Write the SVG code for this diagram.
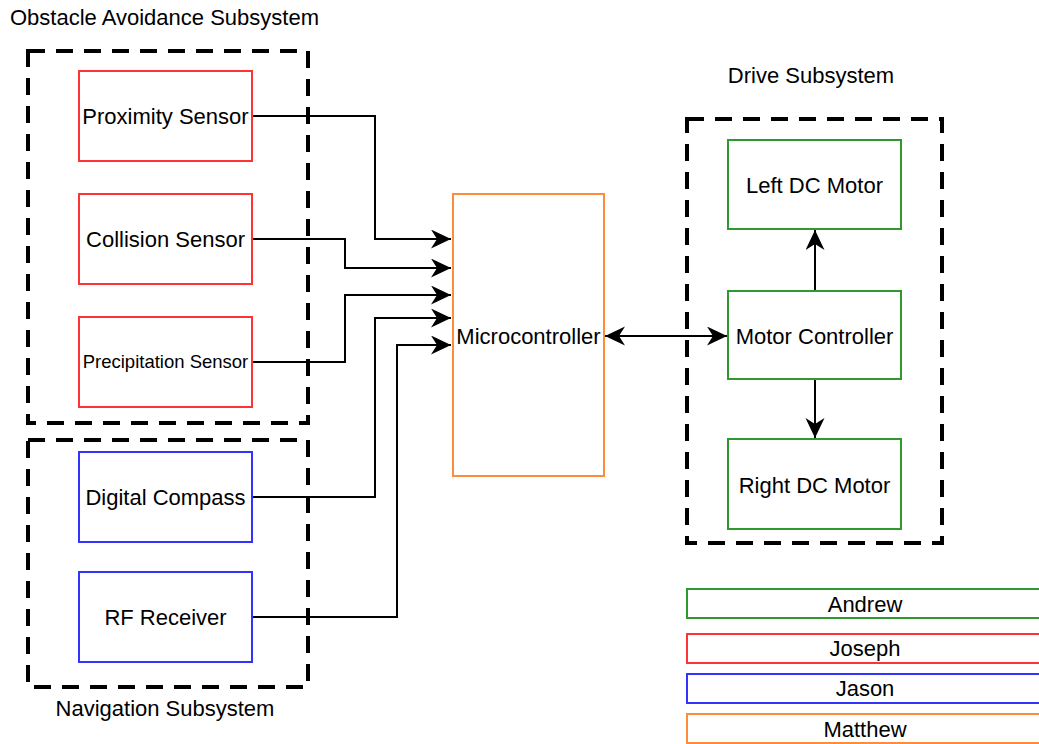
<svg xmlns="http://www.w3.org/2000/svg" width="1039" height="744" viewBox="0 0 1039 744">
<style>
text{font-family:"Liberation Sans",Arial,sans-serif;fill:#000;text-anchor:middle}
.lbl{font-size:22px}
.t{font-size:22px}
.grp{fill:none;stroke:#000;stroke-width:4;stroke-dasharray:17 11}
.red{fill:#fff;stroke:#ff3333;stroke-width:2}
.blue{fill:#fff;stroke:#3333ff;stroke-width:2}
.green{fill:#fff;stroke:#2e9a2e;stroke-width:2}
.orange{fill:#fff;stroke:#ff8c3a;stroke-width:2}
.c{fill:none;stroke:#000;stroke-width:2}
</style>
<defs>
<marker id="ah" markerUnits="userSpaceOnUse" markerWidth="22" markerHeight="20" refX="20" refY="9.5" orient="auto-start-reverse">
<path d="M0,0 L20,9.5 L0,19 L6,9.5 Z" fill="#000"/>
</marker>
</defs>
<rect width="1039" height="744" fill="#fff"/>
<g id="groups">
<rect class="grp" x="28" y="51" width="280" height="372"/>
<rect class="grp" x="28" y="440" width="280" height="247"/>
<rect class="grp" x="687" y="119" width="255" height="424"/>
<text class="lbl" x="10" y="25" style="text-anchor:start">Obstacle Avoidance Subsystem</text>
<text class="lbl" x="811" y="83">Drive Subsystem</text>
<text class="lbl" x="165" y="716">Navigation Subsystem</text>
</g>
<g id="connectors">
<polyline class="c" points="252,116 375,116 375,239 451,239" marker-end="url(#ah)"/>
<polyline class="c" points="252,239 345,239 345,268 451,268" marker-end="url(#ah)"/>
<polyline class="c" points="252,362 345,362 345,295 451,295" marker-end="url(#ah)"/>
<polyline class="c" points="252,497 375,497 375,318 451,318" marker-end="url(#ah)"/>
<polyline class="c" points="252,617 397,617 397,345 451,345" marker-end="url(#ah)"/>
<line class="c" x1="605" y1="336" x2="727" y2="336" marker-start="url(#ah)" marker-end="url(#ah)"/>
<line class="c" x1="815" y1="291" x2="815" y2="230" marker-end="url(#ah)"/>
<line class="c" x1="815" y1="379" x2="815" y2="438" marker-end="url(#ah)"/>
</g>
<g id="proximity"><rect class="red" x="79" y="71" width="173" height="90"/><text class="t" x="165.5" y="124">Proximity Sensor</text></g>
<g id="collision"><rect class="red" x="79" y="194" width="173" height="90"/><text class="t" x="165.5" y="247">Collision Sensor</text></g>
<g id="precipitation"><rect class="red" x="79" y="317" width="173" height="90"/><text x="165.5" y="368" style="font-size:18.5px">Precipitation Sensor</text></g>
<g id="compass"><rect class="blue" x="79" y="452" width="173" height="90"/><text class="t" x="165.5" y="505">Digital Compass</text></g>
<g id="rf"><rect class="blue" x="79" y="572" width="173" height="90"/><text class="t" x="165.5" y="625">RF Receiver</text></g>
<g id="micro"><rect class="orange" x="453" y="194" width="151" height="282"/><text class="t" x="528.5" y="344">Microcontroller</text></g>
<g id="leftmotor"><rect class="green" x="728" y="140" width="173" height="89"/><text class="t" x="814.5" y="193">Left DC Motor</text></g>
<g id="motorctrl"><rect class="green" x="728" y="291" width="173" height="88"/><text class="t" x="814.5" y="344">Motor Controller</text></g>
<g id="rightmotor"><rect class="green" x="728" y="439" width="173" height="90"/><text class="t" x="814.5" y="493">Right DC Motor</text></g>
<g id="legend">
<g id="andrew"><rect class="green" x="687" y="589" width="358" height="29"/><text class="lbl" x="865" y="612">Andrew</text></g>
<g id="joseph"><rect class="red" x="687" y="634" width="358" height="29"/><text class="lbl" x="865" y="656">Joseph</text></g>
<g id="jason"><rect class="blue" x="687" y="674" width="358" height="29"/><text class="lbl" x="865" y="696">Jason</text></g>
<g id="matthew"><rect class="orange" x="687" y="714" width="358" height="29"/><text class="lbl" x="865" y="737">Matthew</text></g>
</g>
</svg>
